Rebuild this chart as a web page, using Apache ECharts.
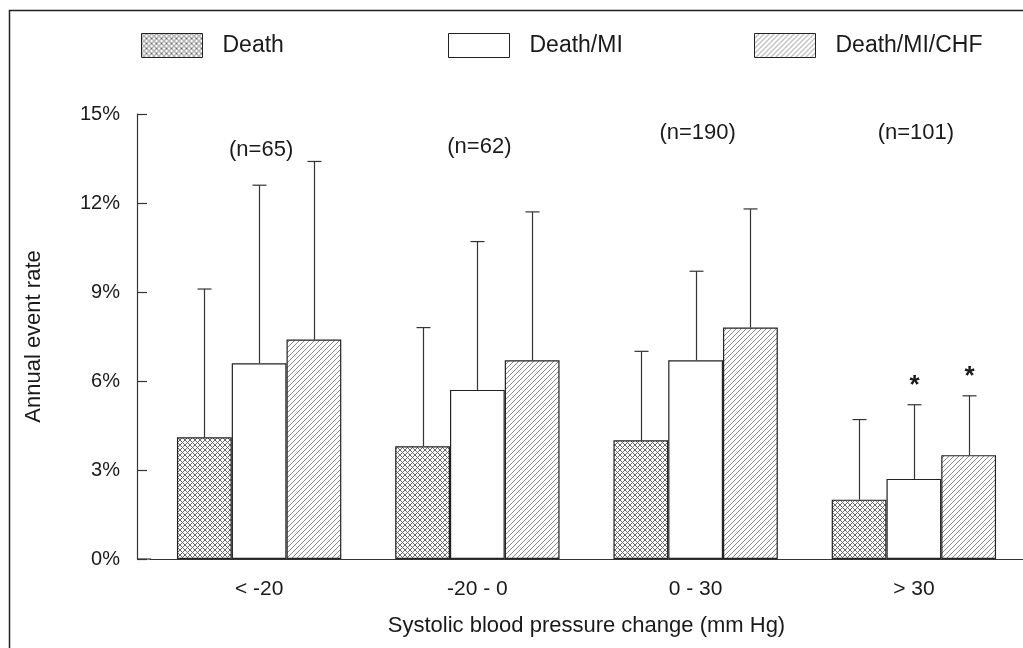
<!DOCTYPE html>
<html>
<head>
<meta charset="utf-8">
<script src="https://cdn.jsdelivr.net/npm/echarts@6/dist/echarts.min.js"></script>
<style>
  html, body { margin: 0; padding: 0; background: #fff; }
  #main { width: 1023px; height: 648px; }
</style>
</head>
<body>
<div id="main"></div>
<script>
// data
var categories = ['< -20', '-20 - 0', '0 - 30', '> 30'];
var seriesNames = ['Death', 'Death/MI', 'Death/MI/CHF'];
var deathRate = [4.1, 3.8, 4.0, 2.0];
var deathMiRate = [6.6, 5.7, 6.7, 2.7];
var deathMiChfRate = [7.4, 6.7, 7.8, 3.5];
var deathErrTop = [9.1, 7.8, 7.0, 4.7];
var deathMiErrTop = [12.6, 10.7, 9.7, 5.2];
var deathMiChfErrTop = [13.4, 11.7, 11.8, 5.5];
var deathMiStar = [false, false, false, true];
var deathMiChfStar = [false, false, false, true];
var nLabels = ['(n=65)', '(n=62)', '(n=190)', '(n=101)'];
var nLabelY = [13.8, 13.9, 14.35, 14.35];
var yTicks = [0, 3, 6, 9, 12, 15];

var FONT = 'Liberation Sans, Arial, sans-serif';
var INK = '#1a1a1a';

// small canvas tiles for the hatch fills
function makeTile(cross) {
    var s = 5;
    var c = document.createElement('canvas');
    c.width = s; c.height = s;
    var g = c.getContext('2d');
    g.fillStyle = '#fff';
    g.fillRect(0, 0, s, s);
    g.strokeStyle = cross ? '#6a6a6a' : '#8a8a8a';
    g.lineWidth = 1;
    g.beginPath();
    g.moveTo(-1, s + 1); g.lineTo(s + 1, -1);
    g.moveTo(-1, 1); g.lineTo(1, -1);
    g.moveTo(s - 1, s + 1); g.lineTo(s + 1, s - 1);
    if (cross) {
        g.moveTo(-1, -1); g.lineTo(s + 1, s + 1);
        g.moveTo(s - 1, -1); g.lineTo(s + 1, 1);
        g.moveTo(-1, s - 1); g.lineTo(1, s + 1);
    }
    g.stroke();
    return c;
}
var crossFill = { image: makeTile(true), repeat: 'repeat' };
var hatchFill = { image: makeTile(false), repeat: 'repeat' };
var fills = [crossFill, '#ffffff', hatchFill];

var rates = [deathRate, deathMiRate, deathMiChfRate];
var errTops = [deathErrTop, deathMiErrTop, deathMiChfErrTop];
var stars = [[false, false, false, false], deathMiStar, deathMiChfStar];

var errData = [];
for (var s = 0; s < 3; s++) {
    for (var i = 0; i < categories.length; i++) {
        errData.push([i, rates[s][i], errTops[s][i], s, stars[s][i] ? 1 : 0]);
    }
}

var myChart = echarts.init(document.getElementById('main'));

var series = [];
for (var k = 0; k < 3; k++) {
    series.push({
        name: seriesNames[k],
        type: 'bar',
        barWidth: '25.1%',
        barGap: '0%',
        data: rates[k],
        itemStyle: { color: fills[k], borderColor: '#222', borderWidth: 1.2 },
        emphasis: { disabled: true },
        z: 2
    });
}

// error bars (upper only) with significance stars
series.push({
    type: 'custom',
    data: errData,
    z: 3,
    silent: true,
    renderItem: function (params, api) {
        var cat = api.value(0);
        var base = api.coord([cat, api.value(1)]);
        var top = api.coord([cat, api.value(2)]);
        var band = api.size([1, 0])[0];
        var x = Math.round(base[0] + (api.value(3) - 1) * band * 0.251) + 0.5;
        var children = [
            { type: 'line', shape: { x1: x, y1: base[1], x2: x, y2: top[1] }, style: { stroke: '#333', lineWidth: 1.2 } },
            { type: 'line', shape: { x1: x - 7, y1: top[1], x2: x + 7, y2: top[1] }, style: { stroke: '#333', lineWidth: 1.2 } }
        ];
        if (api.value(4)) {
            children.push({
                type: 'text',
                style: { text: '*', x: x, y: top[1] - 6, align: 'center', verticalAlign: 'bottom',
                    font: 'bold 26px ' + FONT, fill: INK }
            });
        }
        return { type: 'group', children: children };
    }
});

// group sizes
series.push({
    type: 'custom',
    silent: true,
    z: 3,
    data: nLabelY.map(function (v, i) { return [i, v]; }),
    renderItem: function (params, api) {
        var p = api.coord([api.value(0), api.value(1)]);
        return {
            type: 'text',
            style: { text: nLabels[params.dataIndex], x: p[0] + 2, y: p[1], align: 'center',
                verticalAlign: 'middle', font: '22px ' + FONT, fill: INK }
        };
    }
});

function legendFor(idx, left) {
    return {
        data: [seriesNames[idx]],
        left: left,
        top: 28,
        itemWidth: 61,
        itemHeight: 24,
        selectedMode: false,
        icon: 'rect',
        itemStyle: { borderColor: '#222', borderWidth: 1 },
        textStyle: { fontFamily: FONT, fontSize: 23, color: INK, padding: [0, 0, 0, 15] }
    };
}

var option = {
    backgroundColor: '#fff',
    animation: false,
    legend: [legendFor(0, 136), legendFor(1, 443), legendFor(2, 749)],
    grid: { left: 150, top: 114, width: 875, bottom: 89 },
    xAxis: {
        type: 'category',
        data: categories,
        axisTick: { show: false },
        axisLine: { lineStyle: { color: '#333', width: 1.2 } },
        axisLabel: { fontFamily: FONT, fontSize: 21, color: INK, margin: 20 },
        name: 'Systolic blood pressure change (mm Hg)',
        nameLocation: 'middle',
        nameGap: 56,
        nameTextStyle: { fontFamily: FONT, fontSize: 22, color: INK }
    },
    yAxis: {
        type: 'value',
        min: yTicks[0],
        max: yTicks[yTicks.length - 1],
        interval: 3,
        offset: 13,
        splitLine: { show: false },
        axisLine: { show: true, lineStyle: { color: '#333', width: 1.2 } },
        axisTick: { show: true, inside: true, length: 10, lineStyle: { color: '#333', width: 1.2 } },
        axisLabel: { fontFamily: FONT, fontSize: 20, color: INK, margin: 17, formatter: '{value}%' },
        name: 'Annual event rate',
        nameLocation: 'middle',
        nameGap: 92,
        nameTextStyle: { fontFamily: FONT, fontSize: 22, color: INK }
    },
    series: series
};

myChart.setOption(option);

// frame lines of the figure, plus the x-axis stub reaching back to the y axis
var y0 = myChart.convertToPixel({ yAxisIndex: 0 }, 0);
myChart.setOption({
    graphic: [
        { type: 'polyline', shape: { points: [[9.5, 648], [9.5, 10.5], [1023, 10.5]] },
          style: { stroke: '#222', lineWidth: 1.5, fill: null } },
        { type: 'line', shape: { x1: 137, y1: y0, x2: 151, y2: y0 },
          style: { stroke: '#333', lineWidth: 1.2 } }
    ]
});
</script>
</body>
</html>
